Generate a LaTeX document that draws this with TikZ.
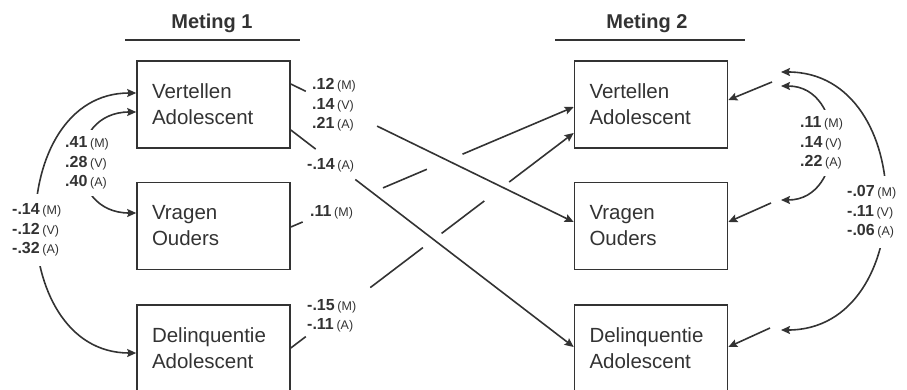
\documentclass[tikz,border=0pt]{standalone}
\usepackage{fontspec}
\setmainfont{Liberation Sans}
\usetikzlibrary{arrows.meta,calc}
\definecolor{ink}{HTML}{333333}
\newcommand{\coef}[2]{{\bfseries #1}\,{\fontsize{12.5}{15}\selectfont(#2)}}
\begin{document}
\begin{tikzpicture}[x=1pt,y=-1pt,
  box/.style={draw=ink, line width=1.6pt, minimum height=87pt, text width=123pt,
    inner xsep=15pt, align=left, font=\fontsize{20.5}{26}\selectfont, text=ink},
  lab/.style={inner xsep=2pt, inner ysep=0pt, align=left, anchor=west, text=ink,
    font=\fontsize{16}{19.5}\selectfont},
  conn/.style={draw=ink, line width=1.6pt},
  tip/.tip={Stealth[length=9pt,width=8pt,inset=1.5pt]},
  arr/.style={conn, -tip},
  both/.style={conn, tip-tip},
  title/.style={font=\bfseries\fontsize{20}{24}\selectfont, text=ink},
  rule/.style={draw=ink, line width=2.8pt}]
\useasboundingbox (0,0) rectangle (907,389);
\clip (0,0) rectangle (907,389);

% titles
\node[title] (t1) at (212,23) {Meting 1};
\node[title] (t2) at (647,23) {Meting 2};
\draw[rule] (125,40) -- (300,40);
\draw[rule] (555,40) -- (745,40);

% boxes
\node[box] (va1) at (213.5,104.5) {Vertellen\\Adolescent};
\node[box] (vo1) at (213.5,226) {Vragen\\Ouders};
\node[box] (da1) at (213.5,348.5) {Delinquentie\\Adolescent};
\node[box] (va2) at (651,104.5) {Vertellen\\Adolescent};
\node[box] (vo2) at (651,226) {Vragen\\Ouders};
\node[box] (da2) at (651,348.5) {Delinquentie\\Adolescent};

% cross-lagged paths
\coordinate (l1s) at ($(va1.east)+(0,-20.5)$);
\coordinate (l1e) at ($(vo2.west)+(0,-4)$);
\path (l1s) -- (l1e) coordinate[pos=0.053] (l1a) coordinate[pos=0.305] (l1b);
\draw[conn] (l1s) -- (l1a);
\draw[arr] (l1b) -- (l1e);

\coordinate (l2s) at ($(va1.east)+(0,25.5)$);
\coordinate (l2e) at ($(da2.west)+(0,-1.5)$);
\path (l2s) -- (l2e) coordinate[pos=0.088] (l2a) coordinate[pos=0.228] (l2b);
\draw[conn] (l2s) -- (l2a);
\draw[arr] (l2b) -- (l2e);

\coordinate (l3s) at ($(vo1.east)+(0,1)$);
\coordinate (l3e) at ($(va2.west)+(0,2.5)$);
\path (l3s) -- (l3e) coordinate[pos=0.042] (l3a) coordinate[pos=0.326] (l3b)
  coordinate[pos=0.481] (l3c) coordinate[pos=0.607] (l3d);
\draw[conn] (l3s) -- (l3a);
\draw[conn] (l3b) -- (l3c);
\draw[arr] (l3d) -- (l3e);

\coordinate (l4s) at ($(da1.east)+(0,-0.5)$);
\coordinate (l4e) at ($(va2.west)+(0,28.5)$);
\path (l4s) -- (l4e) coordinate[pos=0.053] (l4a) coordinate[pos=0.281] (l4b)
  coordinate[pos=0.467] (l4c) coordinate[pos=0.533] (l4d)
  coordinate[pos=0.684] (l4f) coordinate[pos=0.772] (l4g);
\draw[conn] (l4s) -- (l4a);
\draw[conn] (l4b) -- (l4c);
\draw[conn] (l4d) -- (l4f);
\draw[arr] (l4g) -- (l4e);

\node[lab] (ca) at (310,105) {\coef{.12}{M}\\\coef{.14}{V}\\\coef{.21}{A}};
\node[lab] (cb) at (305,165) {\coef{-.14}{A}};
\node[lab] (cc) at (308,212) {\coef{.11}{M}};
\node[lab] (cd) at (305,316) {\coef{-.15}{M}\\\coef{-.11}{A}};

% left correlations (measurement 1)
\draw[both] ($(va1.west)+(0,7.5)$) .. controls (65,112) and (65,213) .. ($(vo1.west)+(0,-13)$);
\draw[both] ($(va1.west)+(0,-11.5)$) .. controls (4,93) and (4,353) .. ($(da1.west)+(0,4.5)$);
\node[lab, fill=white, inner ysep=7pt] (ce) at (63,163) {\coef{.41}{M}\\\coef{.28}{V}\\\coef{.40}{A}};
\node[lab, fill=white, inner ysep=10pt] (cf) at (10,230) {\coef{-.14}{M}\\\coef{-.12}{V}\\\coef{-.32}{A}};

% residuals (measurement 2)
\coordinate (e1) at (772,82);
\coordinate (e2) at (771,203);
\coordinate (e3) at (770,328);
\draw[arr] (e1) -- ($(va2.east)+(0,-4.5)$);
\draw[arr] (e2) -- ($(vo2.east)+(0,-4)$);
\draw[arr] (e3) -- ($(da2.east)+(0,-1.5)$);
\coordinate (r1a) at (781,72);
\coordinate (r1b) at (781,86);
\coordinate (r2) at (781,200);
\coordinate (r3) at (781,330);
\draw[both] (r1b) .. controls (847,86) and (847,200) .. (r2);
\draw[both] (r1a) .. controls (919,72) and (919,330) .. (r3);
\node[lab, fill=white, inner ysep=7pt] (cg) at (798,143) {\coef{.11}{M}\\\coef{.14}{V}\\\coef{.22}{A}};
\node[lab, fill=white, inner ysep=10pt] (ch) at (845,212) {\coef{-.07}{M}\\\coef{-.11}{V}\\\coef{-.06}{A}};
\end{tikzpicture}
\end{document}
